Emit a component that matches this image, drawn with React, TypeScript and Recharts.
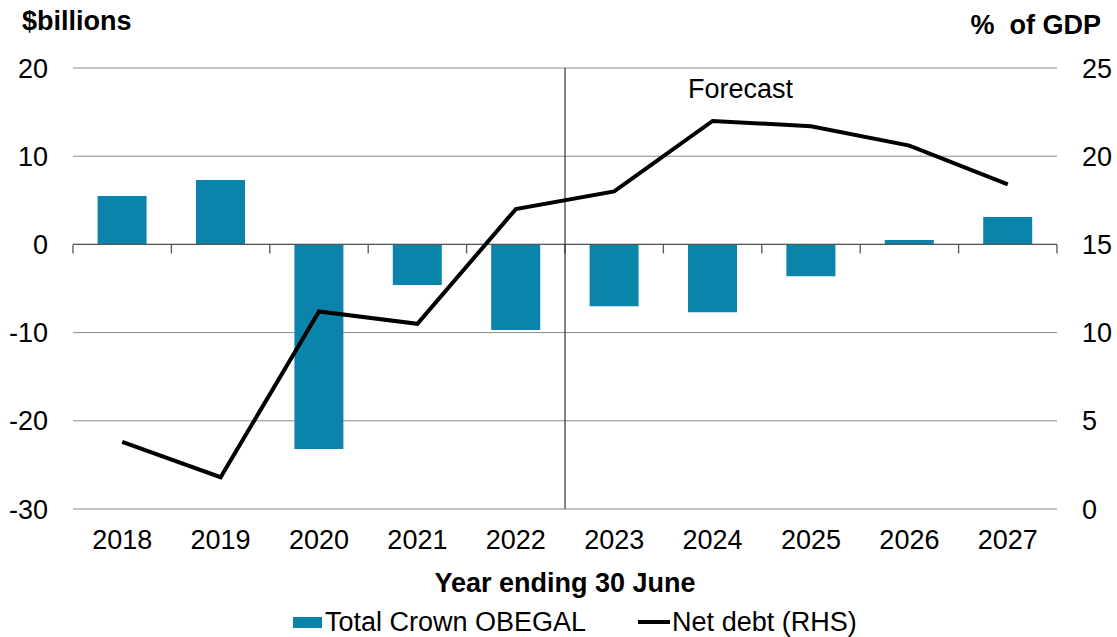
import {
  Bar,
  CartesianGrid,
  ComposedChart,
  Legend,
  Line,
  ReferenceLine,
  XAxis,
  YAxis,
} from "recharts";

const years = ["2018", "2019", "2020", "2021", "2022", "2023", "2024", "2025", "2026", "2027"];
const obegal = [5.5, 7.3, -23.2, -4.6, -9.7, -7.0, -7.7, -3.6, 0.5, 3.1];
const netDebt = [3.8, 1.8, 11.2, 10.5, 17.0, 18.0, 22.0, 21.7, 20.6, 18.4];
const leftTicks = [-30, -20, -10, 0, 10, 20];
const rightTicks = [0, 5, 10, 15, 20, 25];
const forecastFrom = "2023";

const BAR = "#0a84ab";
const FONT = '"Liberation Sans", Arial, sans-serif';
const FS = 27;

const data = years.map((year, i) => ({
  year,
  obegal: obegal[i],
  netDebt: netDebt[i],
}));

// zero line with small ticks between categories
function ZeroAxis(props: any) {
  const { x1, x2, y1 } = props;
  const n = years.length;
  const step = (x2 - x1) / n;
  const marks = Array.from({ length: n + 1 }, (_, i) => x1 + i * step);
  return (
    <g>
      <line x1={x1} x2={x2} y1={y1} y2={y1} stroke="#555" strokeWidth={1.3} />
      {marks.map((x) => (
        <line key={x} x1={x} x2={x} y1={y1} y2={y1 + 9} stroke="#555" strokeWidth={1.3} />
      ))}
    </g>
  );
}

function LegendContent() {
  return (
    <div
      style={{
        display: "flex",
        alignItems: "center",
        height: 30,
        paddingLeft: 293,
        transform: "translateY(2px)",
        fontFamily: FONT,
        fontSize: FS,
        color: "#000",
      }}
    >
      <span style={{ display: "inline-block", width: 29, height: 11, background: BAR, marginRight: 3 }} />
      <span>Total Crown OBEGAL</span>
      <span style={{ display: "inline-block", width: 32, height: 4, background: "#000", marginLeft: 52, marginRight: 2 }} />
      <span>Net debt (RHS)</span>
    </div>
  );
}

const textStyle = {
  position: "absolute" as const,
  fontFamily: FONT,
  fontSize: FS,
  lineHeight: 1,
  color: "#000",
  whiteSpace: "pre" as const,
};

export default function App() {
  return (
    <div style={{ position: "absolute", left: 0, top: 0, width: 1117, height: 637, background: "#fff" }}>
      <ComposedChart
        width={1117}
        height={637}
        data={data}
        margin={{ top: 68, right: 8, bottom: 2, left: 0 }}
        barCategoryGap="25%"
      >
        <CartesianGrid xAxisId="cat" yAxisId="left" vertical={false} stroke="#8a8a8a" />
        <XAxis
          xAxisId="cat"
          dataKey="year"
          height={96}
          axisLine={false}
          tickLine={false}
          tickSize={0}
          tickMargin={21}
          tick={{ fill: "#000", fontSize: FS, fontFamily: FONT }}
          label={{
            value: "Year ending 30 June",
            position: "insideBottom",
            offset: 13,
            fill: "#000",
            fontSize: FS,
            fontWeight: "bold",
            fontFamily: FONT,
          }}
        />
        <YAxis
          yAxisId="left"
          width={73}
          domain={[-30, 20]}
          ticks={leftTicks}
          interval={0}
          axisLine={false}
          tickLine={false}
          tickSize={0}
          tickMargin={25}
          tick={{ fill: "#000", fontSize: FS, fontFamily: FONT }}
        />
        <YAxis
          yAxisId="right"
          orientation="right"
          width={52}
          domain={[0, 25]}
          ticks={rightTicks}
          interval={0}
          axisLine={false}
          tickLine={false}
          tickSize={0}
          tickMargin={25}
          tick={{ fill: "#000", fontSize: FS, fontFamily: FONT, textAnchor: "start" }}
        />
        <Bar
          xAxisId="cat"
          yAxisId="left"
          dataKey="obegal"
          name="Total Crown OBEGAL"
          fill={BAR}
          isAnimationActive={false}
        />
        <ReferenceLine xAxisId="cat" yAxisId="left" y={0} shape={ZeroAxis} />
        <ReferenceLine
          xAxisId="cat"
          yAxisId="left"
          x={forecastFrom}
          position="start"
          stroke="#333"
          strokeWidth={1.2}
        />
        <Line
          xAxisId="cat"
          yAxisId="right"
          dataKey="netDebt"
          name="Net debt (RHS)"
          stroke="#000"
          strokeWidth={4}
          dot={false}
          activeDot={false}
          isAnimationActive={false}
        />
        <Legend verticalAlign="bottom" content={LegendContent} />
      </ComposedChart>
      <div style={{ ...textStyle, left: 22, top: 8, fontWeight: "bold" }}>$billions</div>
      <div style={{ ...textStyle, right: 16, top: 12, fontWeight: "bold" }}>%  of GDP</div>
      <div style={{ ...textStyle, left: 688, top: 76 }}>Forecast</div>
    </div>
  );
}
